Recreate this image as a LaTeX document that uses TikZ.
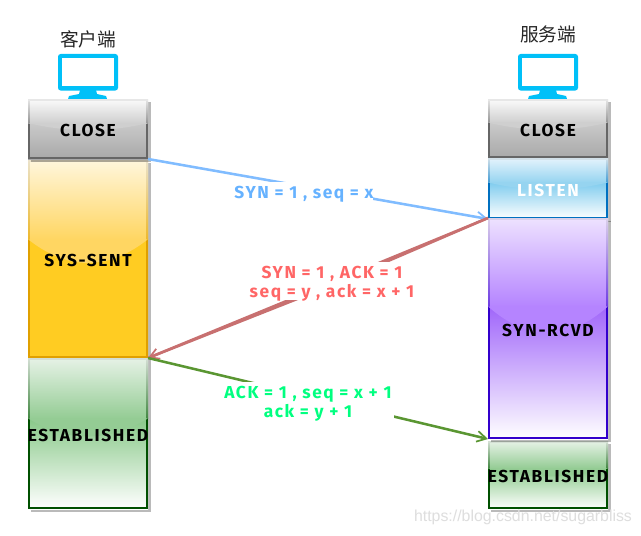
\documentclass[tikz,border=0pt]{standalone}
\usepackage{fontspec}
\setmainfont{Fira Sans}
\newfontfamily\lab{Fira Sans}[LetterSpace=9.5]
\newfontfamily\msgfont{Fira Sans}[LetterSpace=9]
\newfontfamily\cjk{Noto Sans CJK SC}
\newfontfamily\wm{Liberation Sans}
\usetikzlibrary{arrows.meta,calc}
\definecolor{closeA}{HTML}{FBFBFB}\definecolor{closeB}{HTML}{CFCFCF}\definecolor{closeC}{HTML}{CACACA}\definecolor{closeD}{HTML}{A8A8A8}\definecolor{closeE}{HTML}{666666}
\definecolor{sysA}{HTML}{FFF6DC}\definecolor{sysB}{HTML}{FFD662}\definecolor{sysC}{HTML}{FFCC22}\definecolor{sysD}{HTML}{FFCC22}\definecolor{sysE}{HTML}{E0A000}
\definecolor{estA}{HTML}{E6F2E6}\definecolor{estB}{HTML}{94CC94}\definecolor{estC}{HTML}{88C888}\definecolor{estD}{HTML}{FFFFFF}\definecolor{estE}{HTML}{005000}
\definecolor{lisA}{HTML}{E4F3FC}\definecolor{lisB}{HTML}{96D4F0}\definecolor{lisC}{HTML}{80CCEE}\definecolor{lisD}{HTML}{FFFFFF}\definecolor{lisE}{HTML}{0070C0}
\definecolor{synA}{HTML}{EEE2FF}\definecolor{synB}{HTML}{B584FF}\definecolor{synC}{HTML}{A066FA}\definecolor{synD}{HTML}{FFFFFF}\definecolor{synE}{HTML}{3300CC}
\definecolor{monitor}{HTML}{00C0F8}
\definecolor{blueline}{HTML}{80BCFF}\definecolor{redline}{HTML}{C87070}\definecolor{greenline}{HTML}{5A9632}
\definecolor{bluetext}{HTML}{66B2FF}\definecolor{redtext}{HTML}{FF6666}\definecolor{greentext}{HTML}{00FF80}
\tikzset{
  statebox/.style={inner sep=0pt,outer sep=0pt,font=\lab\fontsize{13}{15}\selectfont\bfseries},
  msg/.style={inner sep=0pt,outer sep=0pt,align=center,font=\msgfont\fontsize{13}{14.25}\selectfont\bfseries},
  blank/.style={fill=white,inner sep=0pt,outer sep=0pt},
  title/.style={inner sep=0pt,font=\cjk\fontsize{14}{16}\selectfont,text=black!85},
  conn/.style={line width=1.9pt,-{Straight Barb[length=7pt,width=8pt,line width=1.3pt]}},
}
% #1 name, #2 left x, #3 top y, #4 bottom y, #5 label, #6 palette
\newcommand\statebox[6]{%
  \pgfmathsetmacro\xr{#2+120}%
  \pgfmathsetmacro\ys{#3+0.40*(#4-#3)}%
  \pgfmathsetmacro\yc{#3+0.56*(#4-#3)}%
  \pgfmathsetmacro\xa{#2+40}\pgfmathsetmacro\xb{#2+80}%
  \fill[black,opacity=0.27] (#2+3,#3+3) rectangle (\xr+3,#4+3);
  \shade[top color=#6C,bottom color=#6D] (#2,\ys) rectangle (\xr,#4);
  \fill[#6E] (#2,\ys) rectangle (#2+2,#4);
  \fill[#6E] (\xr-2,\ys) rectangle (\xr,#4);
  \fill[#6E] (#2,#4-2) rectangle (\xr,#4);
  \shade[top color=#6A,bottom color=#6B] (#2,#3) rectangle (\xr,\ys);
  \fill[#6B] (\xr,\ys) .. controls (\xb,\yc) and (\xa,\yc) .. (#2,\ys) -- cycle;
  \shade[top color=#6A!92!black,bottom color=#6E!55!#6B] (#2,#3) rectangle (#2+1.5,\ys);
  \shade[top color=#6A!92!black,bottom color=#6E!55!#6B] (\xr-1.5,#3) rectangle (\xr,\ys);
  \fill[#6A!92!black] (#2,#3) rectangle (\xr,#3+1.5);
  \node[statebox,minimum width=90pt,minimum height={(#4-#3)*0.75pt}] (#1) at ({#2+60},{(#3+#4)/2}) {\raisebox{-1.3pt}[9pt][0pt]{#5}};
}
% #1 left x: monitor icon
\newcommand\monitoricon[1]{%
  \fill[monitor,rounded corners=2pt] (#1,54) rectangle (#1+60,90.5);
  \fill[white] (#1+4,58) rectangle (#1+56,86);
  \fill[monitor] (#1+22,90) -- (#1+38,90) -- (#1+39,94) -- (#1+48,96) -- (#1+49,99) -- (#1+10,99) -- (#1+11,96) -- (#1+21,94) -- cycle;
}
\begin{document}
\begin{tikzpicture}[x=0.75pt,y=-0.75pt]
\useasboundingbox (0,0) rectangle (641,535);
\fill[white] (0,0) rectangle (641,535);
\monitoricon{58}
\monitoricon{518}
\node[title] (clienttitle) at (88,39) {客户端};
\node[title] (servertitle) at (548,34) {服务端};
\statebox{csent}{28}{160}{358}{SYS-SENT}{sys}
\statebox{cest}{28}{358}{509}{ESTABLISHED}{est}
\statebox{cclose}{28}{99}{159}{CLOSE}{close}
\statebox{sclose}{488}{99}{158}{CLOSE}{close}
\statebox{slisten}{488}{158}{219}{\textcolor{white}{LISTEN}}{lis}
\statebox{sest}{488}{441}{509}{ESTABLISHED}{est}
\statebox{srcvd}{488}{218}{439}{SYN-RCVD}{syn}
\coordinate (redbend) at (330,286);
\draw[conn,blueline] (cclose.south east) -- (slisten.south west);
\draw[line width=1.9pt,redline] (srcvd.north west) -- (redbend) -- (csent.south east);
\draw[conn,redline] (srcvd.north west) -- (csent.south east);
\draw[conn,greenline] (cest.north east) -- (srcvd.south west);
\node[blank,minimum width=140*0.75pt,minimum height=22*0.75pt] (b1) at (303,193) {};
\node[blank,minimum width=170*0.75pt,minimum height=38*0.75pt] (b2) at (332,281) {};
\node[blank,minimum width=172*0.75pt,minimum height=36*0.75pt] (b3) at (308,400) {};
\node[msg,text=bluetext] (m1) at (304,194) {SYN = 1 , seq = x};
\node[msg,text=redtext] (m2) at (332,283.5) {SYN = 1 , ACK = 1\\seq = y , ack = x + 1};
\node[msg,text=greentext] (m3) at (308,404) {ACK = 1 , seq = x + 1\\ack = y + 1};
\node[inner sep=0pt,text=black!13,font=\wm\fontsize{11.9}{13}\selectfont] (watermark) at (523,517) {https://blog.csdn.net/sugarbliss};
\end{tikzpicture}
\end{document}
